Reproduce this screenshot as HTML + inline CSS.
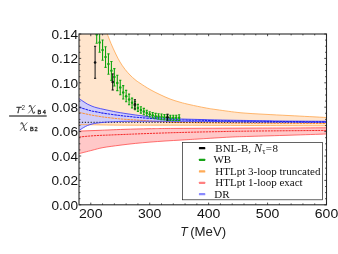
<!DOCTYPE html>
<html><head><meta charset="utf-8"><title>chart</title>
<style>html,body{margin:0;padding:0;background:#fff;overflow:hidden}svg{display:block;will-change:transform}</style></head>
<body>
<svg width="338" height="254" viewBox="0 0 338 254">
<rect width="338" height="254" fill="#fff"/>
<defs><clipPath id="cp"><rect x="79.00" y="34.00" width="247.50" height="170.80"/></clipPath></defs>
<g clip-path="url(#cp)">
<path d="M79.00,34.00 L107.20,33.70 C107.83,35.33 109.57,40.12 111.00,43.50 C112.43,46.88 114.30,50.92 115.80,54.00 C117.30,57.08 118.47,59.45 120.00,62.00 C121.53,64.55 123.33,67.13 125.00,69.30 C126.67,71.47 128.33,73.28 130.00,75.00 C131.67,76.72 133.33,78.23 135.00,79.60 C136.67,80.97 137.50,81.55 140.00,83.20 C142.50,84.85 146.67,87.60 150.00,89.50 C153.33,91.40 156.67,93.02 160.00,94.60 C163.33,96.18 166.67,97.73 170.00,99.00 C173.33,100.27 176.67,101.25 180.00,102.20 C183.33,103.15 185.83,103.77 190.00,104.70 C194.17,105.63 200.50,106.97 205.00,107.80 C209.50,108.63 211.00,108.87 217.00,109.70 C223.00,110.53 233.00,112.03 241.00,112.80 C249.00,113.57 256.83,113.83 265.00,114.30 C273.17,114.77 279.75,115.07 290.00,115.60 C300.25,116.13 320.42,117.18 326.50,117.50 L326.50,125.80 C313.75,125.75 275.08,125.60 250.00,125.50 C224.92,125.40 196.00,125.25 176.00,125.20 C156.00,125.15 142.67,125.25 130.00,125.20 C117.33,125.15 108.47,125.02 100.00,124.90 C91.53,124.78 82.67,124.57 79.20,124.50 Z" fill="#ffe5cd"/>
<path d="M107.20,33.70 C107.83,35.33 109.57,40.12 111.00,43.50 C112.43,46.88 114.30,50.92 115.80,54.00 C117.30,57.08 118.47,59.45 120.00,62.00 C121.53,64.55 123.33,67.13 125.00,69.30 C126.67,71.47 128.33,73.28 130.00,75.00 C131.67,76.72 133.33,78.23 135.00,79.60 C136.67,80.97 137.50,81.55 140.00,83.20 C142.50,84.85 146.67,87.60 150.00,89.50 C153.33,91.40 156.67,93.02 160.00,94.60 C163.33,96.18 166.67,97.73 170.00,99.00 C173.33,100.27 176.67,101.25 180.00,102.20 C183.33,103.15 185.83,103.77 190.00,104.70 C194.17,105.63 200.50,106.97 205.00,107.80 C209.50,108.63 211.00,108.87 217.00,109.70 C223.00,110.53 233.00,112.03 241.00,112.80 C249.00,113.57 256.83,113.83 265.00,114.30 C273.17,114.77 279.75,115.07 290.00,115.60 C300.25,116.13 320.42,117.18 326.50,117.50" fill="none" stroke="#ffa64d" stroke-width="0.8"/>
<path d="M79.20,131.10 C81.00,131.03 86.53,130.83 90.00,130.70 C93.47,130.57 96.67,130.43 100.00,130.30 C103.33,130.17 105.83,130.07 110.00,129.90 C114.17,129.73 118.33,129.50 125.00,129.30 C131.67,129.10 141.50,128.85 150.00,128.70 C158.50,128.55 159.33,128.50 176.00,128.40 C192.67,128.30 231.00,128.17 250.00,128.10 C269.00,128.03 277.25,128.05 290.00,128.00 C302.75,127.95 320.42,127.83 326.50,127.80 L326.50,134.00 C320.42,134.20 302.75,134.80 290.00,135.20 C277.25,135.60 260.00,136.08 250.00,136.40 C240.00,136.72 238.33,136.68 230.00,137.10 C221.67,137.52 208.00,138.42 200.00,138.90 C192.00,139.38 187.83,139.65 182.00,140.00 C176.17,140.35 170.33,140.65 165.00,141.00 C159.67,141.35 154.92,141.70 150.00,142.10 C145.08,142.50 140.50,142.88 135.50,143.40 C130.50,143.92 125.42,144.50 120.00,145.20 C114.58,145.90 107.67,146.75 103.00,147.60 C98.33,148.45 95.97,149.30 92.00,150.30 C88.03,151.30 81.33,153.05 79.20,153.60 Z" fill="#ffc8c8"/>
<path d="M79.20,131.10 C81.00,131.03 86.53,130.83 90.00,130.70 C93.47,130.57 96.67,130.43 100.00,130.30 C103.33,130.17 105.83,130.07 110.00,129.90 C114.17,129.73 118.33,129.50 125.00,129.30 C131.67,129.10 141.50,128.85 150.00,128.70 C158.50,128.55 159.33,128.50 176.00,128.40 C192.67,128.30 231.00,128.17 250.00,128.10 C269.00,128.03 277.25,128.05 290.00,128.00 C302.75,127.95 320.42,127.83 326.50,127.80" fill="none" stroke="#ff4a4a" stroke-width="0.85"/>
<path d="M79.20,153.60 C81.33,153.05 88.03,151.30 92.00,150.30 C95.97,149.30 98.33,148.45 103.00,147.60 C107.67,146.75 114.58,145.90 120.00,145.20 C125.42,144.50 130.50,143.92 135.50,143.40 C140.50,142.88 145.08,142.50 150.00,142.10 C154.92,141.70 159.67,141.35 165.00,141.00 C170.33,140.65 176.17,140.35 182.00,140.00 C187.83,139.65 192.00,139.38 200.00,138.90 C208.00,138.42 221.67,137.52 230.00,137.10 C238.33,136.68 240.00,136.72 250.00,136.40 C260.00,136.08 277.25,135.60 290.00,135.20 C302.75,134.80 320.42,134.20 326.50,134.00" fill="none" stroke="#ff4d4d" stroke-width="0.8"/>
<path d="M79.20,137.00 C81.00,136.83 86.53,136.27 90.00,136.00 C93.47,135.73 96.67,135.57 100.00,135.40 C103.33,135.23 105.83,135.17 110.00,135.00 C114.17,134.83 120.00,134.60 125.00,134.40 C130.00,134.20 134.17,134.02 140.00,133.80 C145.83,133.58 153.33,133.32 160.00,133.10 C166.67,132.88 171.67,132.72 180.00,132.50 C188.33,132.28 198.33,132.03 210.00,131.80 C221.67,131.57 230.58,131.33 250.00,131.10 C269.42,130.87 313.75,130.52 326.50,130.40" fill="none" stroke="#f41818" stroke-width="0.9" stroke-dasharray="2.2,0.75"/>
<path d="M79.20,98.60 C79.83,99.05 81.63,100.38 83.00,101.30 C84.37,102.22 85.90,103.28 87.40,104.10 C88.90,104.92 90.40,105.58 92.00,106.20 C93.60,106.82 95.00,107.27 97.00,107.80 C99.00,108.33 101.83,108.92 104.00,109.40 C106.17,109.88 107.67,110.22 110.00,110.70 C112.33,111.18 114.67,111.72 118.00,112.30 C121.33,112.88 126.33,113.65 130.00,114.20 C133.67,114.75 136.67,115.17 140.00,115.60 C143.33,116.03 147.00,116.47 150.00,116.80 C153.00,117.13 153.67,117.27 158.00,117.60 C162.33,117.93 169.00,118.48 176.00,118.80 C183.00,119.12 191.00,119.27 200.00,119.50 C209.00,119.73 220.00,120.00 230.00,120.20 C240.00,120.40 250.00,120.55 260.00,120.70 C270.00,120.85 278.92,121.00 290.00,121.10 C301.08,121.20 320.42,121.27 326.50,121.30 L326.50,122.40 C315.42,122.33 278.42,122.15 260.00,122.00 C241.58,121.85 230.00,121.62 216.00,121.50 C202.00,121.38 190.33,121.33 176.00,121.30 C161.67,121.27 140.67,121.22 130.00,121.30 C119.33,121.38 116.33,121.63 112.00,121.80 C107.67,121.97 106.52,122.08 104.00,122.30 C101.48,122.52 98.87,122.82 96.90,123.10 C94.93,123.38 93.77,123.60 92.20,124.00 C90.63,124.40 88.92,124.92 87.50,125.50 C86.08,126.08 85.08,126.70 83.70,127.50 C82.32,128.30 79.95,129.83 79.20,130.30 Z" fill="#cbcbfd" fill-opacity="0.93"/>
<path d="M79.20,124.50 C82.67,124.57 91.53,124.78 100.00,124.90 C108.47,125.02 117.33,125.15 130.00,125.20 C142.67,125.25 156.00,125.15 176.00,125.20 C196.00,125.25 224.92,125.40 250.00,125.50 C275.08,125.60 313.75,125.75 326.50,125.80" fill="none" stroke="#ffa64d" stroke-width="0.8"/>
<path d="M79.20,112.40 C81.00,112.80 86.53,114.12 90.00,114.80 C93.47,115.48 97.67,116.12 100.00,116.50 C102.33,116.88 101.33,116.77 104.00,117.10 C106.67,117.43 112.50,118.13 116.00,118.50 C119.50,118.87 121.67,119.05 125.00,119.30 C128.33,119.55 131.83,119.72 136.00,120.00 C140.17,120.28 144.33,120.63 150.00,121.00 C155.67,121.37 161.67,121.90 170.00,122.20 C178.33,122.50 186.67,122.63 200.00,122.80 C213.33,122.97 228.92,123.08 250.00,123.20 C271.08,123.32 313.75,123.45 326.50,123.50" fill="none" stroke="#ff8c26" stroke-width="0.95" stroke-dasharray="2.5,0.75"/>
<path d="M79.00,122.3H326.50" stroke="#111" stroke-width="1" stroke-dasharray="1.2,1.7"/>
<path d="M79.20,98.60 C79.83,99.05 81.63,100.38 83.00,101.30 C84.37,102.22 85.90,103.28 87.40,104.10 C88.90,104.92 90.40,105.58 92.00,106.20 C93.60,106.82 95.00,107.27 97.00,107.80 C99.00,108.33 101.83,108.92 104.00,109.40 C106.17,109.88 107.67,110.22 110.00,110.70 C112.33,111.18 114.67,111.72 118.00,112.30 C121.33,112.88 126.33,113.65 130.00,114.20 C133.67,114.75 136.67,115.17 140.00,115.60 C143.33,116.03 147.00,116.47 150.00,116.80 C153.00,117.13 153.67,117.27 158.00,117.60 C162.33,117.93 169.00,118.48 176.00,118.80 C183.00,119.12 191.00,119.27 200.00,119.50 C209.00,119.73 220.00,120.00 230.00,120.20 C240.00,120.40 250.00,120.55 260.00,120.70 C270.00,120.85 278.92,121.00 290.00,121.10 C301.08,121.20 320.42,121.27 326.50,121.30" fill="none" stroke="#3a3afa" stroke-width="0.85"/>
<path d="M79.20,130.30 C79.95,129.83 82.32,128.30 83.70,127.50 C85.08,126.70 86.08,126.08 87.50,125.50 C88.92,124.92 90.63,124.40 92.20,124.00 C93.77,123.60 94.93,123.38 96.90,123.10 C98.87,122.82 101.48,122.52 104.00,122.30 C106.52,122.08 107.67,121.97 112.00,121.80 C116.33,121.63 119.33,121.38 130.00,121.30 C140.67,121.22 161.67,121.27 176.00,121.30 C190.33,121.33 202.00,121.38 216.00,121.50 C230.00,121.62 241.58,121.85 260.00,122.00 C278.42,122.15 315.42,122.33 326.50,122.40" fill="none" stroke="#3a3afa" stroke-width="0.85"/>
<path d="M79.20,107.40 C81.00,107.92 86.53,109.63 90.00,110.50 C93.47,111.37 97.67,112.13 100.00,112.60 C102.33,113.07 101.00,112.85 104.00,113.30 C107.00,113.75 113.67,114.75 118.00,115.30 C122.33,115.85 124.67,116.08 130.00,116.60 C135.33,117.12 142.33,117.87 150.00,118.40 C157.67,118.93 167.67,119.48 176.00,119.80 C184.33,120.12 187.67,120.07 200.00,120.30 C212.33,120.53 228.92,120.95 250.00,121.20 C271.08,121.45 313.75,121.70 326.50,121.80" fill="none" stroke="#2020ee" stroke-width="1.05" stroke-dasharray="2.5,0.75"/>
<path d="M96.68,25.70V43.30 M95.58,25.70H97.78 M95.58,43.30H97.78" stroke="#0fa60f" stroke-width="1.10" fill="none"/><circle cx="96.68" cy="34.50" r="1.25" fill="#0fa60f"/>
<path d="M99.62,32.60V52.20 M98.53,32.60H100.72 M98.53,52.20H100.72" stroke="#0fa60f" stroke-width="1.10" fill="none"/><circle cx="99.62" cy="42.40" r="1.25" fill="#0fa60f"/>
<path d="M102.57,40.00V60.30 M101.47,40.00H103.67 M101.47,60.30H103.67" stroke="#0fa60f" stroke-width="1.10" fill="none"/><circle cx="102.57" cy="49.90" r="1.25" fill="#0fa60f"/>
<path d="M105.52,46.80V67.40 M104.42,46.80H106.62 M104.42,67.40H106.62" stroke="#0fa60f" stroke-width="1.10" fill="none"/><circle cx="105.52" cy="57.10" r="1.25" fill="#0fa60f"/>
<path d="M108.46,53.90V74.20 M107.36,53.90H109.56 M107.36,74.20H109.56" stroke="#0fa60f" stroke-width="1.10" fill="none"/><circle cx="108.46" cy="64.00" r="1.25" fill="#0fa60f"/>
<path d="M111.41,61.50V80.40 M110.31,61.50H112.51 M110.31,80.40H112.51" stroke="#0fa60f" stroke-width="1.10" fill="none"/><circle cx="111.41" cy="70.80" r="1.25" fill="#0fa60f"/>
<path d="M114.36,68.60V86.00 M113.26,68.60H115.46 M113.26,86.00H115.46" stroke="#0fa60f" stroke-width="1.10" fill="none"/><circle cx="114.36" cy="77.10" r="1.25" fill="#0fa60f"/>
<path d="M117.30,75.20V90.60 M116.20,75.20H118.40 M116.20,90.60H118.40" stroke="#0fa60f" stroke-width="1.10" fill="none"/><circle cx="117.30" cy="83.00" r="1.25" fill="#0fa60f"/>
<path d="M120.25,80.30V94.80 M119.15,80.30H121.35 M119.15,94.80H121.35" stroke="#0fa60f" stroke-width="1.10" fill="none"/><circle cx="120.25" cy="87.60" r="1.25" fill="#0fa60f"/>
<path d="M123.20,85.60V99.00 M122.10,85.60H124.30 M122.10,99.00H124.30" stroke="#0fa60f" stroke-width="1.10" fill="none"/><circle cx="123.20" cy="92.40" r="1.25" fill="#0fa60f"/>
<path d="M126.14,90.40V101.80 M125.04,90.40H127.24 M125.04,101.80H127.24" stroke="#0fa60f" stroke-width="1.10" fill="none"/><circle cx="126.14" cy="96.20" r="1.25" fill="#0fa60f"/>
<path d="M129.09,94.10V104.80 M127.99,94.10H130.19 M127.99,104.80H130.19" stroke="#0fa60f" stroke-width="1.10" fill="none"/><circle cx="129.09" cy="99.60" r="1.25" fill="#0fa60f"/>
<path d="M132.04,98.10V107.90 M130.94,98.10H133.14 M130.94,107.90H133.14" stroke="#0fa60f" stroke-width="1.10" fill="none"/><circle cx="132.04" cy="102.80" r="1.25" fill="#0fa60f"/>
<path d="M134.98,101.40V109.80 M133.88,101.40H136.08 M133.88,109.80H136.08" stroke="#0fa60f" stroke-width="1.10" fill="none"/><circle cx="134.98" cy="105.60" r="1.25" fill="#0fa60f"/>
<path d="M137.93,104.40V111.40 M136.83,104.40H139.03 M136.83,111.40H139.03" stroke="#0fa60f" stroke-width="1.10" fill="none"/><circle cx="137.93" cy="107.90" r="1.25" fill="#0fa60f"/>
<path d="M140.88,106.70V113.10 M139.78,106.70H141.97 M139.78,113.10H141.97" stroke="#0fa60f" stroke-width="1.10" fill="none"/><circle cx="140.88" cy="109.90" r="1.25" fill="#0fa60f"/>
<path d="M143.82,108.40V114.70 M142.72,108.40H144.92 M142.72,114.70H144.92" stroke="#0fa60f" stroke-width="1.10" fill="none"/><circle cx="143.82" cy="111.40" r="1.25" fill="#0fa60f"/>
<path d="M146.77,110.30V115.80 M145.67,110.30H147.87 M145.67,115.80H147.87" stroke="#0fa60f" stroke-width="1.10" fill="none"/><circle cx="146.77" cy="113.10" r="1.25" fill="#0fa60f"/>
<path d="M149.71,111.70V117.00 M148.61,111.70H150.81 M148.61,117.00H150.81" stroke="#0fa60f" stroke-width="1.10" fill="none"/><circle cx="149.71" cy="114.30" r="1.25" fill="#0fa60f"/>
<path d="M152.66,112.60V117.90 M151.56,112.60H153.76 M151.56,117.90H153.76" stroke="#0fa60f" stroke-width="1.10" fill="none"/><circle cx="152.66" cy="115.30" r="1.25" fill="#0fa60f"/>
<path d="M155.61,113.40V118.80 M154.51,113.40H156.71 M154.51,118.80H156.71" stroke="#0fa60f" stroke-width="1.10" fill="none"/><circle cx="155.61" cy="116.20" r="1.25" fill="#0fa60f"/>
<path d="M158.55,113.80V119.20 M157.45,113.80H159.65 M157.45,119.20H159.65" stroke="#0fa60f" stroke-width="1.10" fill="none"/><circle cx="158.55" cy="116.50" r="1.25" fill="#0fa60f"/>
<path d="M161.50,114.00V119.60 M160.40,114.00H162.60 M160.40,119.60H162.60" stroke="#0fa60f" stroke-width="1.10" fill="none"/><circle cx="161.50" cy="116.80" r="1.25" fill="#0fa60f"/>
<path d="M164.45,114.60V119.90 M163.35,114.60H165.55 M163.35,119.90H165.55" stroke="#0fa60f" stroke-width="1.10" fill="none"/><circle cx="164.45" cy="117.20" r="1.25" fill="#0fa60f"/>
<path d="M167.39,114.90V120.40 M166.29,114.90H168.49 M166.29,120.40H168.49" stroke="#0fa60f" stroke-width="1.10" fill="none"/><circle cx="167.39" cy="117.60" r="1.25" fill="#0fa60f"/>
<path d="M170.34,115.20V120.50 M169.24,115.20H171.44 M169.24,120.50H171.44" stroke="#0fa60f" stroke-width="1.10" fill="none"/><circle cx="170.34" cy="117.80" r="1.25" fill="#0fa60f"/>
<path d="M173.29,115.20V120.50 M172.19,115.20H174.39 M172.19,120.50H174.39" stroke="#0fa60f" stroke-width="1.10" fill="none"/><circle cx="173.29" cy="117.80" r="1.25" fill="#0fa60f"/>
<path d="M176.23,115.20V120.50 M175.13,115.20H177.33 M175.13,120.50H177.33" stroke="#0fa60f" stroke-width="1.10" fill="none"/><circle cx="176.23" cy="117.80" r="1.25" fill="#0fa60f"/>
<path d="M179.18,114.80V120.50 M178.08,114.80H180.28 M178.08,120.50H180.28" stroke="#0fa60f" stroke-width="1.10" fill="none"/><circle cx="179.18" cy="117.70" r="1.25" fill="#0fa60f"/>
<path d="M95.10,46.30V78.30 M94.00,46.30H96.20 M94.00,78.30H96.20" stroke="#111" stroke-width="1.00" fill="none"/><circle cx="95.10" cy="62.50" r="1.30" fill="#111"/>
<path d="M112.70,73.90V90.00 M111.60,73.90H113.80 M111.60,90.00H113.80" stroke="#111" stroke-width="1.00" fill="none"/><circle cx="112.70" cy="82.10" r="1.30" fill="#111"/>
<path d="M134.90,99.70V108.90 M133.80,99.70H136.00 M133.80,108.90H136.00" stroke="#111" stroke-width="1.00" fill="none"/><circle cx="134.90" cy="104.40" r="1.30" fill="#111"/>
<path d="M167.50,114.20V120.10 M166.40,114.20H168.60 M166.40,120.10H168.60" stroke="#111" stroke-width="1.00" fill="none"/><circle cx="167.50" cy="117.20" r="1.30" fill="#111"/>
</g>
<rect x="79.00" y="34.00" width="247.50" height="170.80" fill="none" stroke="#2a2a2a" stroke-width="1.1"/>
<path d="M90.79,204.80v-2.20 M90.79,34.00v2.20 M102.57,204.80v-1.40 M102.57,34.00v1.40 M114.36,204.80v-1.40 M114.36,34.00v1.40 M126.14,204.80v-1.40 M126.14,34.00v1.40 M137.93,204.80v-1.40 M137.93,34.00v1.40 M149.71,204.80v-2.20 M149.71,34.00v2.20 M161.50,204.80v-1.40 M161.50,34.00v1.40 M173.29,204.80v-1.40 M173.29,34.00v1.40 M185.07,204.80v-1.40 M185.07,34.00v1.40 M196.86,204.80v-1.40 M196.86,34.00v1.40 M208.64,204.80v-2.20 M208.64,34.00v2.20 M220.43,204.80v-1.40 M220.43,34.00v1.40 M232.21,204.80v-1.40 M232.21,34.00v1.40 M244.00,204.80v-1.40 M244.00,34.00v1.40 M255.79,204.80v-1.40 M255.79,34.00v1.40 M267.57,204.80v-2.20 M267.57,34.00v2.20 M279.36,204.80v-1.40 M279.36,34.00v1.40 M291.14,204.80v-1.40 M291.14,34.00v1.40 M302.93,204.80v-1.40 M302.93,34.00v1.40 M314.71,204.80v-1.40 M314.71,34.00v1.40 M326.50,204.80v-2.20 M326.50,34.00v2.20 M79.00,204.80h2.20 M326.50,204.80h-2.20 M79.00,198.70h1.40 M326.50,198.70h-1.40 M79.00,192.60h1.40 M326.50,192.60h-1.40 M79.00,186.50h1.40 M326.50,186.50h-1.40 M79.00,180.40h2.20 M326.50,180.40h-2.20 M79.00,174.30h1.40 M326.50,174.30h-1.40 M79.00,168.20h1.40 M326.50,168.20h-1.40 M79.00,162.10h1.40 M326.50,162.10h-1.40 M79.00,156.00h2.20 M326.50,156.00h-2.20 M79.00,149.90h1.40 M326.50,149.90h-1.40 M79.00,143.80h1.40 M326.50,143.80h-1.40 M79.00,137.70h1.40 M326.50,137.70h-1.40 M79.00,131.60h2.20 M326.50,131.60h-2.20 M79.00,125.50h1.40 M326.50,125.50h-1.40 M79.00,119.40h1.40 M326.50,119.40h-1.40 M79.00,113.30h1.40 M326.50,113.30h-1.40 M79.00,107.20h2.20 M326.50,107.20h-2.20 M79.00,101.10h1.40 M326.50,101.10h-1.40 M79.00,95.00h1.40 M326.50,95.00h-1.40 M79.00,88.90h1.40 M326.50,88.90h-1.40 M79.00,82.80h2.20 M326.50,82.80h-2.20 M79.00,76.70h1.40 M326.50,76.70h-1.40 M79.00,70.60h1.40 M326.50,70.60h-1.40 M79.00,64.50h1.40 M326.50,64.50h-1.40 M79.00,58.40h2.20 M326.50,58.40h-2.20 M79.00,52.30h1.40 M326.50,52.30h-1.40 M79.00,46.20h1.40 M326.50,46.20h-1.40 M79.00,40.10h1.40 M326.50,40.10h-1.40 M79.00,34.00h2.20 M326.50,34.00h-2.20" stroke="#222" stroke-width="0.8" fill="none"/>
<g font-family="Liberation Sans, sans-serif" font-size="11.9" fill="#111">
<text x="51.5" y="209.60" textLength="26.5" lengthAdjust="spacingAndGlyphs">0.00</text>
<text x="51.5" y="185.20" textLength="26.5" lengthAdjust="spacingAndGlyphs">0.02</text>
<text x="51.5" y="160.80" textLength="26.5" lengthAdjust="spacingAndGlyphs">0.04</text>
<text x="51.5" y="136.40" textLength="26.5" lengthAdjust="spacingAndGlyphs">0.06</text>
<text x="51.5" y="112.00" textLength="26.5" lengthAdjust="spacingAndGlyphs">0.08</text>
<text x="51.5" y="87.60" textLength="26.5" lengthAdjust="spacingAndGlyphs">0.10</text>
<text x="51.5" y="63.20" textLength="26.5" lengthAdjust="spacingAndGlyphs">0.12</text>
<text x="51.5" y="38.80" textLength="26.5" lengthAdjust="spacingAndGlyphs">0.14</text>
<text x="79.09" y="217.9" font-size="12.3" textLength="23.4" lengthAdjust="spacingAndGlyphs">200</text>
<text x="138.01" y="217.9" font-size="12.3" textLength="23.4" lengthAdjust="spacingAndGlyphs">300</text>
<text x="196.94" y="217.9" font-size="12.3" textLength="23.4" lengthAdjust="spacingAndGlyphs">400</text>
<text x="255.87" y="217.9" font-size="12.3" textLength="23.4" lengthAdjust="spacingAndGlyphs">500</text>
<text x="314.80" y="217.9" font-size="12.3" textLength="23.4" lengthAdjust="spacingAndGlyphs">600</text>
</g>
<text x="180.3" y="236.4" font-family="Liberation Sans, sans-serif" font-size="12.2" fill="#222"><tspan font-style="italic">T</tspan></text>
<text x="190.2" y="236.4" font-family="Liberation Sans, sans-serif" font-size="12.2" fill="#222" textLength="36" lengthAdjust="spacingAndGlyphs">(MeV)</text>
<g fill="#444" font-family="Liberation Sans, sans-serif">
<rect x="9.1" y="115.3" width="37.6" height="1.4" fill="#4a4a4a"/>
<text x="15.7" y="113.4" font-size="8.8" font-style="italic" fill="#333" stroke="#333" stroke-width="0.3">T</text>
<text x="21.4" y="109.8" font-size="6.3" fill="#333">2</text>
<path d="M29.18,106.58 C29.32,105.44 30.27,104.96 30.81,106.01 L32.85,112.33 C33.26,113.54 34.21,113.46 34.62,112.09" fill="none" stroke="#444" stroke-width="1.05" stroke-linecap="round"/><path d="M35.30,105.36 L28.50,113.14" fill="none" stroke="#444" stroke-width="0.7" stroke-linecap="round"/>
<text x="37.5" y="114.4" font-size="5.6" fill="#222" stroke="#222" stroke-width="0.3" textLength="8.4" lengthAdjust="spacing">B4</text>
<path d="M20.98,123.88 C21.12,122.74 22.07,122.26 22.61,123.31 L24.65,129.63 C25.06,130.84 26.01,130.76 26.42,129.38" fill="none" stroke="#444" stroke-width="1.05" stroke-linecap="round"/><path d="M27.10,122.66 L20.30,130.44" fill="none" stroke="#444" stroke-width="0.7" stroke-linecap="round"/>
<text x="29.9" y="131.4" font-size="5.6" fill="#222" stroke="#222" stroke-width="0.3" textLength="7.6" lengthAdjust="spacing">B2</text>
</g>
<rect x="182.6" y="142.4" width="139.9" height="57.4" fill="#fff" stroke="#222" stroke-width="0.7"/>
<rect x="198.9" y="147.10" width="6.4" height="2.2" rx="0.6" fill="#000"/>
<rect x="198.9" y="158.70" width="6.4" height="2.2" rx="0.6" fill="#16a316"/>
<rect x="198.9" y="170.30" width="6.4" height="2.2" rx="0.6" fill="#ffab57"/>
<rect x="198.9" y="181.70" width="6.4" height="2.2" rx="0.6" fill="#ff8080"/>
<rect x="198.9" y="193.10" width="6.4" height="2.2" rx="0.6" fill="#8a8aff"/>
<g font-family="Liberation Serif, serif" font-size="11" fill="#111">
<text x="215.3" y="151.7">BNL-B,</text>
<text x="254.0" y="151.7" font-size="12" font-style="italic">N</text>
<text x="262.2" y="153.9" font-size="8.2">τ</text>
<text x="265.7" y="151.7">=</text>
<text x="272.6" y="151.7">8</text>
<text x="213.4" y="163.3">WB</text>
<text x="215.3" y="174.9">HTLpt 3-loop truncated</text>
<text x="215.3" y="186.3">HTLpt 1-loop exact</text>
<text x="214.3" y="197.7">DR</text>
</g>
</svg>
</body></html>
